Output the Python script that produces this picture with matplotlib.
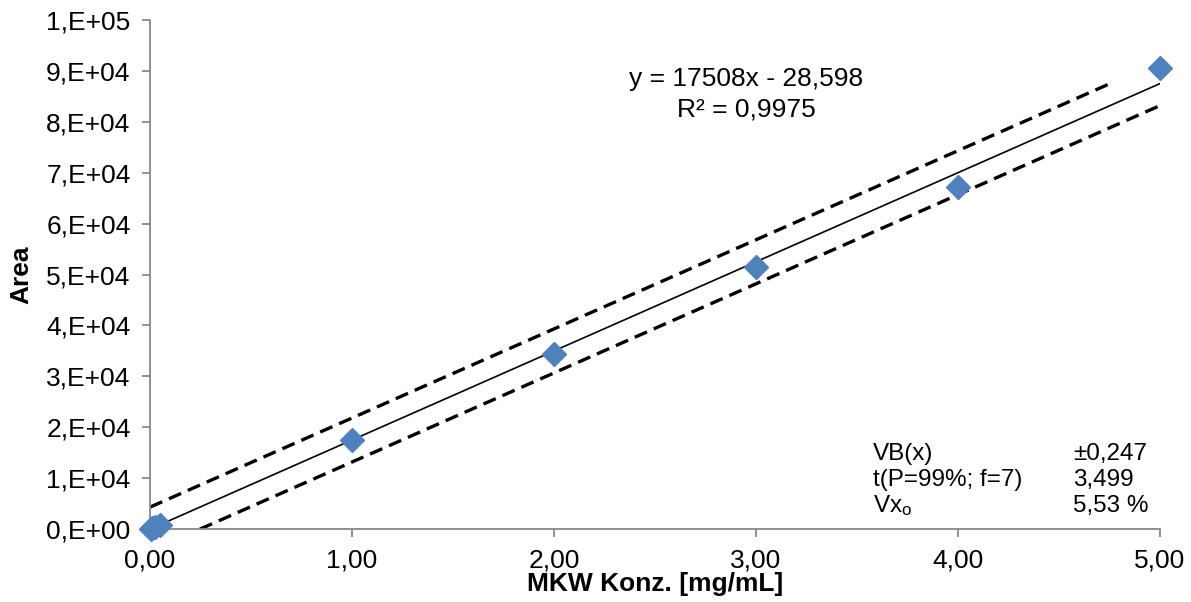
import matplotlib
matplotlib.use("Agg")
import matplotlib.pyplot as plt
import numpy as np
from matplotlib.ticker import FuncFormatter, MultipleLocator

plt.rcParams.update({
    "font.family": ["Liberation Sans", "DejaVu Sans"],
    "font.size": 19,
    "mathtext.default": "regular",
})

# calibration data (concentration in mg/mL, peak area)
konz = [0.005, 0.01, 0.025, 0.05, 1.0, 2.0, 3.0, 4.0, 5.0]
area = [90, 180, 440, 880, 17480, 34400, 51500, 67150, 90600]

# regression + confidence band parameters as given in the chart
slope = 17508
intercept = -28.598
r2 = 0.9975
vb_x = 0.247
t_val = 3.499
vx0 = 5.53


def y_fmt(v, pos):
    if v == 0:
        return "0,E+00"
    e = int(np.floor(np.log10(abs(v)) + 1e-9))
    m = int(round(v / 10 ** e))
    return f"{m},E+{e:02d}"


def x_fmt(v, pos):
    return f"{v:.2f}".replace(".", ",")


def main():
    fig = plt.figure(figsize=(11.91, 6.02), dpi=100)
    ax = fig.add_axes([150 / 1191, 1 - 529 / 602, 1010 / 1191, 509 / 602])

    x_fit = np.array([0.0, max(konz)])
    ax.plot(x_fit, slope * x_fit + intercept, color="black", linewidth=1.2, zorder=2)

    # upper / lower band: fit line shifted by +-VB(x)
    x_up = np.array([0.0, max(konz) - vb_x])
    ax.plot(x_up, slope * (x_up + vb_x) + intercept, color="black", linewidth=2.4,
            linestyle=(0, (4, 2.2)), zorder=2)
    x_lo = np.array([vb_x, max(konz)])
    ax.plot(x_lo, slope * (x_lo - vb_x) + intercept, color="black", linewidth=2.4,
            linestyle=(0, (4, 2.2)), zorder=2)

    ax.plot(konz, area, linestyle="none", marker="D", markersize=12,
            color="#4F81BD", markeredgecolor="#4F81BD", zorder=3, clip_on=False)

    ax.set_xlim(0, 5)
    ax.set_ylim(0, 1e5)
    ax.xaxis.set_major_locator(MultipleLocator(1))
    ax.yaxis.set_major_locator(MultipleLocator(1e4))
    ax.xaxis.set_major_formatter(FuncFormatter(x_fmt))
    ax.yaxis.set_major_formatter(FuncFormatter(y_fmt))

    for s in ["top", "right"]:
        ax.spines[s].set_visible(False)
    for s in ["left", "bottom"]:
        ax.spines[s].set_color("#888888")
        ax.spines[s].set_linewidth(1.3)
    ax.tick_params(axis="both", direction="out", length=6, width=1.3, color="#888888",
                   labelsize=19, pad=8)

    ax.set_xlabel("MKW Konz. [mg/mL]", fontweight="bold", labelpad=0)
    ax.set_ylabel("Area", fontweight="bold", labelpad=9)

    ax.text(2.95, 8.85e4, f"y = {slope}x - {abs(intercept):.3f}".replace(".", ","),
            ha="center", va="center")
    ax.text(2.95, 8.25e4, f"R² = {r2:.4f}".replace(".", ","), ha="center", va="center")

    rows = [("VB(x)", f"±{vb_x:.3f}".replace(".", ",")),
            ("t(P=99%; f=7)", f"{t_val:.3f}".replace(".", ",")),
            (r"Vx$_{o}$", f"{vx0:.2f} %".replace(".", ","))]
    for i, (lab, val) in enumerate(rows):
        yy = 1.48e4 - i * 0.51e4
        ax.text(3.58, yy, lab, ha="left", va="center", fontsize=17.5)
        ax.text(4.57, yy, val, ha="left", va="center", fontsize=17.5)

    fig.savefig("out.png", dpi=100)


if __name__ == "__main__":
    main()
